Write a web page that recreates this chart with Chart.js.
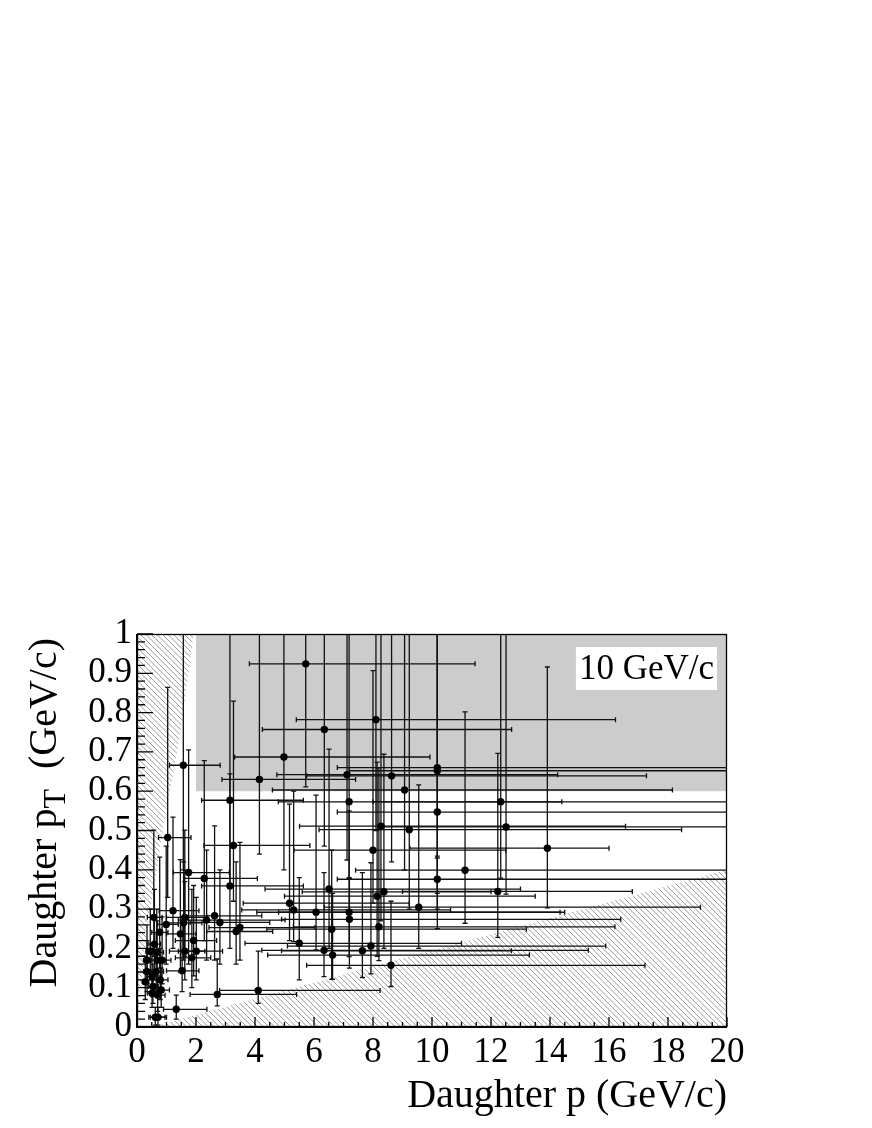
<!DOCTYPE html>
<html>
<head>
<meta charset="utf-8">
<script src="https://cdn.jsdelivr.net/npm/chart.js@4.4.0/dist/chart.umd.min.js"></script>
<style>
  html, body { margin: 0; padding: 0; background: #fff; }
  canvas { display: block; }
</style>
</head>
<body>
<canvas id="kinkPlot" width="872" height="1128"></canvas>
<script>
// daughter momentum p and transverse momentum pT (GeV/c), with asymmetric error bounds
const momentum = [5.72,8.10,6.35,4.98,1.57,4.15,7.12,8.63,9.07,3.15,7.19,8.27,9.23,10.18,10.18,12.33,10.18,12.51,13.91,11.12,
  10.18,12.23,9.55,8.61,8.00,1.04,3.27,1.75,2.28,3.15,6.51,8.37,8.14,5.17,5.31,6.07,7.19,7.20,6.60,8.20,
  5.50,6.34,6.63,7.64,7.93,2.63,2.36,2.81,3.49,3.36,2.72,4.11,1.22,1.62,0.57,0.99,1.58,0.77,1.47,1.92,
  1.62,2.01,1.86,1.53,0.59,0.45,0.85,0.34,0.68,0.34,0.65,0.51,0.28,0.79,0.54,0.82,0.70,0.51,1.33,0.62,
  0.71,0.67];
const ptValues = [.924,.782,.757,.687,.666,.630,.642,.639,.603,.577,.573,.511,.502,.660,.652,.573,.547,.509,.455,.399,
  .376,.345,.305,.157,.450,.482,.462,.393,.378,.359,.351,.344,.333,.315,.298,.292,.292,.274,.249,.255,
  .213,.195,.183,.194,.206,.283,.272,.266,.253,.243,.083,.093,.296,.279,.279,.261,.265,.241,.237,.220,
  .193,.193,.176,.143,.211,.192,.170,.170,.170,.141,.141,.128,.115,.120,.103,.094,.081,.086,.045,.025,
  .025,.190];
const momentumLow = [3.81,5.40,4.25,3.31,1.10,2.88,4.74,5.75,4.59,2.19,4.79,5.51,6.17,6.79,7.20,8.00,6.79,8.20,9.25,7.41,
  6.79,9.00,6.35,5.75,5.32,0.73,2.27,1.23,1.60,2.19,4.34,5.60,5.00,3.60,3.55,4.06,4.80,4.90,4.40,5.30,
  3.66,4.23,4.43,4.90,5.10,1.60,1.40,1.80,2.44,2.36,1.80,2.80,0.75,1.00,0.35,0.70,1.00,0.50,1.00,1.30,
  1.10,1.40,1.30,1.00,0.40,0.30,0.60,0.22,0.45,0.22,0.45,0.35,0.18,0.55,0.38,0.60,0.50,0.35,0.90,0.40,
  0.45,0.45];
const momentumHigh = [11.46,16.22,12.70,9.93,2.82,7.41,14.26,17.27,18.15,5.64,14.40,16.56,18.46,25,24,26,25,27,16.00,24,
  23,16.79,19.10,17.22,12.50,1.83,5.86,3.13,4.08,5.64,13.00,12.00,13.50,9.23,10.63,14.34,14.50,16.40,13.20,16.20,
  11.00,15.30,13.30,12.69,15.89,4.23,5.02,4.50,6.03,4.60,5.41,8.24,2.10,2.40,0.85,1.40,2.20,1.05,2.00,2.70,
  2.30,2.90,2.50,2.10,0.80,0.62,1.15,0.48,0.95,0.48,0.90,0.70,0.40,1.05,0.72,1.10,0.95,0.70,2.37,0.95,
  1.00,0.90];
const ptLow = [.611,.50,.46,.40,.40,.44,.425,.42,.40,.36,.38,.27,.30,.34,.30,.379,.435,.338,.303,.264,
  .25,.228,.20,.103,.315,.33,.32,.16,.22,.20,.20,.20,.18,.22,.217,.196,.179,.15,.121,.169,
  .12,.128,.121,.126,.135,.17,.17,.16,.17,.16,.054,.06,.20,.18,.18,.16,.17,.15,.14,.13,
  .12,.12,.10,.09,.14,.12,.11,.11,.10,.09,.09,.08,.07,.07,.06,.05,.04,.05,.02,.005,
  .005,.12];
const ptHigh = [1.2,1.2,1.2,1.2,1.2,1.2,1.2,1.2,1.2,1.2,1.2,1.2,1.2,1.2,1.2,1.2,1.2,1.2,.916,.802,
  .43,.696,.616,.32,.907,.864,.829,.705,.678,.644,.707,.694,.674,.567,.60,.59,.55,.378,.45,.66,
  .38,.393,.34,.393,.418,.512,.45,.40,.47,.42,.173,.193,.534,.501,.501,.46,.42,.432,.426,.36,
  .37,.33,.35,.28,.35,.30,.28,.26,.27,.22,.24,.20,.18,.20,.16,.15,.13,.13,.081,.05,
  .05,.30];

const xTickValues = [0,2,4,6,8,10,12,14,16,18,20];
const yTickValues = [0,0.1,0.2,0.3,0.4,0.5,0.6,0.7,0.8,0.9,1];

// signal window and excluded (hatched) regions, in (p, pT)
const signalP = [2, 20];
const signalPt = [0.6, 1];
const leftEdgeP = [0, 0, 1.92, 1.47, 0.85, 0.62, 0.37, 0.10, 0];
const leftEdgePt = [0, 1, 1, 0.746, 0.49, 0.372, 0.27, 0.087, 0];
const lowEdgeP = [0.5, 20, 20];
const lowEdgePt = [0, 0.40, 0];

const serif = "'Liberation Serif', 'DejaVu Serif', serif";

function hatch(ctx, area, xs, ys, sx, sy) {
  ctx.save();
  ctx.beginPath();
  xs.forEach((v, i) => {
    const px = sx.getPixelForValue(v), py = sy.getPixelForValue(ys[i]);
    if (i === 0) ctx.moveTo(px, py); else ctx.lineTo(px, py);
  });
  ctx.closePath();
  ctx.clip();
  ctx.strokeStyle = '#9a9a9a';
  ctx.lineWidth = 1;
  const h = area.bottom - area.top;
  ctx.beginPath();
  for (let x0 = area.left - h; x0 < area.right; x0 += 5.5) {
    ctx.moveTo(x0, area.top);
    ctx.lineTo(x0 + h, area.bottom);
  }
  ctx.stroke();
  ctx.restore();
}

const rootStyle = {
  id: 'rootStyle',
  beforeDatasetsDraw(chart) {
    const { ctx, chartArea: a, scales: { x, y } } = chart;
    ctx.save();
    ctx.beginPath();
    ctx.rect(a.left, a.top, a.right - a.left, a.bottom - a.top);
    ctx.clip();

    // grey signal box
    const gx0 = x.getPixelForValue(signalP[0]), gx1 = x.getPixelForValue(signalP[1]);
    const gy0 = y.getPixelForValue(signalPt[1]), gy1 = y.getPixelForValue(signalPt[0]);
    ctx.fillStyle = '#cccccc';
    ctx.fillRect(gx0, gy0, gx1 - gx0, gy1 - gy0);

    hatch(ctx, a, leftEdgeP, leftEdgePt, x, y);
    hatch(ctx, a, lowEdgeP, lowEdgePt, x, y);

    // error bars
    ctx.strokeStyle = '#111';
    ctx.lineWidth = 1.3;
    momentum.forEach((p, i) => {
      const px = x.getPixelForValue(p), py = y.getPixelForValue(ptValues[i]);
      const xa = x.getPixelForValue(momentumLow[i]), xb = x.getPixelForValue(momentumHigh[i]);
      const ya = y.getPixelForValue(ptLow[i]), yb = y.getPixelForValue(ptHigh[i]);
      ctx.beginPath();
      ctx.moveTo(xa, py); ctx.lineTo(xb, py);
      ctx.moveTo(px, ya); ctx.lineTo(px, yb);
      ctx.moveTo(xa, py - 2.5); ctx.lineTo(xa, py + 2.5);
      ctx.moveTo(xb, py - 2.5); ctx.lineTo(xb, py + 2.5);
      ctx.moveTo(px - 2.5, ya); ctx.lineTo(px + 2.5, ya);
      ctx.moveTo(px - 2.5, yb); ctx.lineTo(px + 2.5, yb);
      ctx.stroke();
    });
    ctx.restore();
  },
  afterDraw(chart) {
    const { ctx, chartArea: a, scales: { x, y } } = chart;
    ctx.save();
    // frame
    ctx.strokeStyle = '#000';
    ctx.lineWidth = 1.3;
    ctx.strokeRect(a.left + 0.5, a.top + 0.5, a.right - a.left - 1, a.bottom - a.top - 1);
    ctx.lineWidth = 2;
    ctx.beginPath();
    ctx.moveTo(a.left, a.top); ctx.lineTo(a.left, a.bottom); ctx.lineTo(a.right, a.bottom);
    ctx.stroke();

    // inward ticks
    ctx.lineWidth = 1.3;
    ctx.beginPath();
    for (let v = 0; v <= 20.001; v += 0.5) {
      const px = x.getPixelForValue(v);
      const len = Math.abs(v / 2 - Math.round(v / 2)) < 1e-6 ? 10 : 5;
      ctx.moveTo(px, a.bottom); ctx.lineTo(px, a.bottom - len);
    }
    for (let k = 0; k <= 50; k++) {
      const py = y.getPixelForValue(k * 0.02);
      const len = k % 5 === 0 ? 16 : 8;
      ctx.moveTo(a.left, py); ctx.lineTo(a.left + len, py);
    }
    ctx.stroke();

    // energy label box
    ctx.font = '35px ' + serif;
    const label = '10 GeV/c';
    const w = ctx.measureText(label).width;
    const bx1 = a.right - 10, bx0 = bx1 - w - 6;
    ctx.fillStyle = '#fff';
    ctx.fillRect(bx0, a.top + 13, bx1 - bx0, 43);
    ctx.fillStyle = '#000';
    ctx.textBaseline = 'alphabetic';
    ctx.textAlign = 'left';
    ctx.fillText(label, bx0 + 3, a.top + 45);

    // x axis title
    ctx.font = '40px ' + serif;
    ctx.textAlign = 'right';
    ctx.fillText('Daughter p (GeV/c)', a.right, 1107);

    // y axis title with subscript T
    const parts = [
      { t: 'Daughter p', size: 40, dy: 0 },
      { t: 'T', size: 32, dy: 9 },
      { t: '  (GeV/c)', size: 40, dy: 0 }
    ];
    let total = 0;
    parts.forEach(pt => { ctx.font = pt.size + 'px ' + serif; pt.w = ctx.measureText(pt.t).width; total += pt.w; });
    ctx.translate(56, a.top + 4);
    ctx.rotate(-Math.PI / 2);
    ctx.textAlign = 'left';
    let cx = -total;
    parts.forEach(pt => {
      ctx.font = pt.size + 'px ' + serif;
      ctx.fillText(pt.t, cx, pt.dy);
      cx += pt.w;
    });
    ctx.restore();
  }
};

const points = momentum.map((p, i) => ({ x: p, y: ptValues[i] }));

new Chart(document.getElementById('kinkPlot'), {
  type: 'scatter',
  data: {
    datasets: [{
      data: points,
      pointRadius: 3.7,
      pointBackgroundColor: '#000',
      pointBorderWidth: 0,
      pointHoverRadius: 3.7
    }]
  },
  options: {
    responsive: false,
    animation: false,
    events: [],
    layout: { padding: { top: 634, right: 145, left: 0, bottom: 0 } },
    plugins: { legend: { display: false }, tooltip: { enabled: false } },
    scales: {
      x: {
        type: 'linear', min: 0, max: 20,
        afterBuildTicks: s => { s.ticks = xTickValues.map(v => ({ value: v })); },
        afterFit: s => { s.height = 101; },
        grid: { display: false, drawTicks: false },
        border: { display: false },
        ticks: {
          autoSkip: false, maxRotation: 0, padding: 5, color: '#000',
          font: { family: serif, size: 35 },
          callback: v => String(v)
        }
      },
      y: {
        type: 'linear', min: 0, max: 1,
        afterBuildTicks: s => { s.ticks = yTickValues.map(v => ({ value: v })); },
        afterFit: s => { s.width = 137; },
        grid: { display: false, drawTicks: false },
        border: { display: false },
        ticks: {
          autoSkip: false, padding: 5, color: '#000',
          font: { family: serif, size: 35 },
          callback: v => String(+v.toFixed(1))
        }
      }
    }
  },
  plugins: [rootStyle]
});
</script>
</body>
</html>
